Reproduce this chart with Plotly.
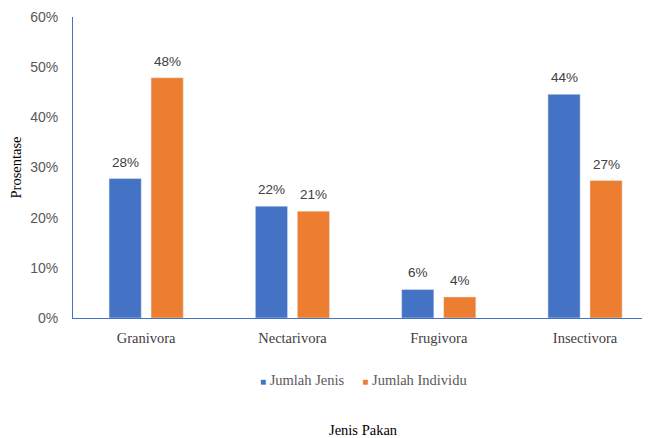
import plotly.graph_objects as go

categories = ["Granivora", "Nectarivora", "Frugivora", "Insectivora"]
jumlah_jenis = [27.8, 22.3, 5.7, 44.6]
jumlah_individu = [47.9, 21.3, 4.2, 27.4]
jenis_labels = ["28%", "22%", "6%", "44%"]
individu_labels = ["48%", "21%", "4%", "27%"]
series_names = ["Jumlah Jenis", "Jumlah Individu"]
y_ticks = [0, 10, 20, 30, 40, 50, 60]
y_tick_labels = ["0%", "10%", "20%", "30%", "40%", "50%", "60%"]

blue = "#4472C4"
orange = "#ED7D31"
sans = "Liberation Sans, Arial, sans-serif"
serif = "Liberation Serif, Times New Roman, serif"
label_font = dict(family=sans, size=13.5, color="#404040")

fig = go.Figure()
fig.add_trace(go.Bar(x=categories, y=jumlah_jenis, name=series_names[0],
                     marker_color=blue))
fig.add_trace(go.Bar(x=categories, y=jumlah_individu, name=series_names[1],
                     marker_color=orange))

annotations = []
for vals, labels, shift in [(jumlah_jenis, jenis_labels, -21),
                            (jumlah_individu, individu_labels, 21)]:
    for c, v, t in zip(categories, vals, labels):
        annotations.append(dict(x=c, y=v, text=t, xref="x", yref="y",
                                xshift=shift, yshift=7, showarrow=False,
                                xanchor="center", yanchor="bottom",
                                font=label_font))

legend_text = (f'<span style="color:{blue};font-size:10px">■</span> {series_names[0]}'
               f'&nbsp;&nbsp;&nbsp;&nbsp;&nbsp;'
               f'<span style="color:{orange};font-size:10px">■</span> {series_names[1]}')

annotations += [
    dict(text=legend_text, xref="paper", yref="paper", x=0.503, y=-0.206,
         xanchor="center", yanchor="middle", showarrow=False,
         font=dict(family=serif, size=14.5, color="#595959")),
    dict(text="Jenis Pakan", xref="paper", yref="paper", x=0.503, y=-0.372,
         xanchor="center", yanchor="middle", showarrow=False,
         font=dict(family=serif, size=14.5, color="black")),
]

fig.update_layout(
    width=642, height=430,
    margin=dict(l=65, r=0, t=9, b=120),
    paper_bgcolor="white", plot_bgcolor="white",
    barmode="group", bargap=0.426, bargroupgap=0.233,
    showlegend=False,
    xaxis=dict(range=[-0.5, 3.444], showline=True, linecolor=blue, linewidth=1,
               ticks="", showgrid=False, ticklabelstandoff=7,
               tickfont=dict(family=serif, size=14.5, color="#404040")),
    yaxis=dict(range=[0, 60], tickvals=y_ticks, ticktext=y_tick_labels,
               showline=True, linecolor=blue, linewidth=1, showgrid=False,
               ticks="", tickfont=dict(family=sans, size=14, color="#595959"),
               ticklabelstandoff=11,
               title=dict(text="Prosentase", font=dict(family=serif, size=14.5, color="black"),
                          standoff=12)),
    annotations=annotations,
)

fig.write_html("out.html")
